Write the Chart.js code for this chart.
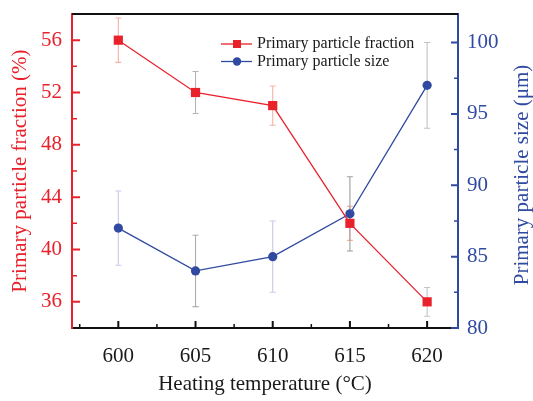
<!DOCTYPE html>
<html>
<head>
<meta charset="utf-8">
<script src="https://cdn.jsdelivr.net/npm/chart.js@4.4.0/dist/chart.umd.min.js"></script>
<style>
  html, body { margin: 0; padding: 0; background: #fff; }
  #wrap { width: 533px; height: 401px; }
</style>
</head>
<body>
<div id="wrap"><canvas id="chart" width="533" height="401"></canvas></div>
<script>
// values
const temperatures = [600, 605, 610, 615, 620];
const fraction = [56, 52, 51, 42, 36];
const fractionErr = [1.7, 1.6, 1.5, 1.3, 1.1];
const size = [87, 84, 85, 88, 97];
const sizeErr = [2.6, 2.5, 2.5, 2.6, 3.0];

const xTicks = [600, 605, 610, 615, 620];
const fractionTicks = [36, 40, 44, 48, 52, 56];
const sizeTicks = [80, 85, 90, 95, 100];

const RED = "#e8212b";
const BLUE = "#2f4aa0";
const INK = "#1a1a1a";
const FONT = "'Liberation Serif', 'Times New Roman', serif";
const fractionErrColors = ["#f4b3a4", "#b4b4b4", "#f4b3a4", "#f4b3a4", "#c4c4c4"];
const sizeErrColors = ["#c8cbea", "#adadad", "#c8cbea", "#9e9e9e", "#c2c2c2"];

const errorBars = {
  id: "errorBars",
  beforeDatasetsDraw(chart) {
    const ctx = chart.ctx;
    const x = chart.scales.x;
    const sets = [
      [fraction, fractionErr, fractionErrColors, chart.scales.yL],
      [size, sizeErr, sizeErrColors, chart.scales.yR]
    ];
    ctx.save();
    ctx.lineWidth = 1.1;
    sets.forEach(([vals, errs, colors, y]) => {
      vals.forEach((v, i) => {
        const px = x.getPixelForValue(temperatures[i]);
        const top = y.getPixelForValue(v + errs[i]);
        const bot = y.getPixelForValue(v - errs[i]);
        ctx.strokeStyle = colors[i];
        ctx.beginPath();
        ctx.moveTo(px, top); ctx.lineTo(px, bot);
        ctx.moveTo(px - 3, top); ctx.lineTo(px + 3, top);
        ctx.moveTo(px - 3, bot); ctx.lineTo(px + 3, bot);
        ctx.stroke();
      });
    });
    ctx.restore();
  }
};

function minorOf(ticks, half, min, max) {
  const out = ticks.map(v => v - half);
  out.push(ticks[ticks.length - 1] + half);
  return out.filter(v => v > min && v < max);
}

const frame = {
  id: "frame",
  afterDraw(chart) {
    const { ctx, chartArea: a, scales } = chart;
    ctx.save();
    // top border
    ctx.strokeStyle = "#111";
    ctx.lineWidth = 2;
    ctx.beginPath();
    ctx.moveTo(a.left, a.top); ctx.lineTo(a.right, a.top);
    ctx.stroke();

    function marks(scale, values, len, width, color, dir) {
      ctx.strokeStyle = color;
      ctx.lineWidth = width;
      ctx.beginPath();
      values.forEach(v => {
        const p = scale.getPixelForValue(v);
        if (dir === "up") { ctx.moveTo(p, a.bottom); ctx.lineTo(p, a.bottom - len); }
        if (dir === "right") { ctx.moveTo(a.left, p); ctx.lineTo(a.left + len, p); }
        if (dir === "left") { ctx.moveTo(a.right, p); ctx.lineTo(a.right - len, p); }
      });
      ctx.stroke();
    }
    const x = scales.x, yL = scales.yL, yR = scales.yR;
    marks(x, xTicks, 7, 2, "#111", "up");
    marks(x, minorOf(xTicks, 2.5, x.min, x.max), 4, 1.5, "#111", "up");
    marks(yL, fractionTicks, 8, 2, RED, "right");
    marks(yL, minorOf(fractionTicks, 2, yL.min, yL.max), 5, 1.5, RED, "right");
    marks(yR, sizeTicks, 7, 2, BLUE, "left");
    marks(yR, minorOf(sizeTicks, 2.5, yR.min, yR.max), 4, 1.5, BLUE, "left");

    // right axis title, reading upward
    ctx.fillStyle = BLUE;
    ctx.font = "21px " + FONT;
    ctx.textAlign = "center";
    ctx.textBaseline = "middle";
    ctx.translate(522, 175);
    ctx.rotate(-Math.PI / 2);
    ctx.fillText("Primary particle size (μm)", 0, 0);
    ctx.restore();

    // legend
    ctx.save();
    const lx = a.left + 149, ly = a.top + 30;
    chart.data.datasets.forEach((ds, i) => {
      const y = ly + i * 17.5;
      ctx.strokeStyle = ds.borderColor;
      ctx.lineWidth = 1.3;
      ctx.beginPath();
      ctx.moveTo(lx, y); ctx.lineTo(lx + 31, y);
      ctx.stroke();
      ctx.fillStyle = ds.backgroundColor;
      ctx.beginPath();
      if (ds.pointStyle === "rect") ctx.rect(lx + 12, y - 4, 8, 8);
      else ctx.arc(lx + 16, y, 4.2, 0, Math.PI * 2);
      ctx.fill();
      ctx.fillStyle = INK;
      ctx.font = "16px " + FONT;
      ctx.textAlign = "left";
      ctx.textBaseline = "middle";
      ctx.fillText(ds.label, lx + 36, y);
    });
    ctx.restore();
  }
};

new Chart(document.getElementById("chart"), {
  type: "line",
  data: {
    datasets: [
      {
        label: "Primary particle fraction",
        data: temperatures.map((t, i) => ({ x: t, y: fraction[i] })),
        yAxisID: "yL",
        borderColor: RED,
        backgroundColor: RED,
        borderWidth: 1.3,
        pointStyle: "rect",
        pointRadius: 6.5,
        pointBorderWidth: 0,
        tension: 0
      },
      {
        label: "Primary particle size",
        data: temperatures.map((t, i) => ({ x: t, y: size[i] })),
        yAxisID: "yR",
        borderColor: BLUE,
        backgroundColor: BLUE,
        borderWidth: 1.3,
        pointStyle: "circle",
        pointRadius: 4.6,
        pointBorderWidth: 0,
        tension: 0
      }
    ]
  },
  options: {
    responsive: false,
    animation: false,
    devicePixelRatio: 1,
    layout: { padding: { top: 14, right: 0, left: 0, bottom: 0 } },
    plugins: { legend: { display: false }, tooltip: { enabled: false } },
    scales: {
      x: {
        type: "linear",
        position: "bottom",
        min: 597,
        max: 622,
        afterBuildTicks: s => { s.ticks = xTicks.map(v => ({ value: v })); },
        afterFit: s => { s.height = 73; s.paddingLeft = 0; s.paddingRight = 0; },
        grid: { display: false, drawTicks: false },
        border: { display: true, color: "#111", width: 2 },
        ticks: { color: INK, font: { family: FONT, size: 21 }, padding: 16, maxRotation: 0 },
        title: {
          display: true, text: "Heating temperature (°C)", color: INK,
          font: { family: FONT, size: 21 }, padding: { top: 0, bottom: 4 }
        }
      },
      yL: {
        type: "linear",
        position: "left",
        min: 34,
        max: 58,
        afterBuildTicks: s => { s.ticks = fractionTicks.map(v => ({ value: v })); },
        afterFit: s => { s.width = 72; s.paddingTop = 0; s.paddingBottom = 0; },
        grid: { display: false, drawTicks: false },
        border: { display: true, color: RED, width: 2 },
        ticks: { color: RED, font: { family: FONT, size: 21 }, padding: 10 },
        title: {
          display: true, text: "Primary particle fraction (%)", color: RED,
          font: { family: FONT, size: 21 }, padding: { top: 8, bottom: 0 }
        }
      },
      yR: {
        type: "linear",
        position: "right",
        min: 80,
        max: 102,
        afterBuildTicks: s => { s.ticks = sizeTicks.map(v => ({ value: v })); },
        afterFit: s => { s.width = 75; s.paddingTop = 0; s.paddingBottom = 0; },
        grid: { display: false, drawTicks: false },
        border: { display: true, color: BLUE, width: 2 },
        ticks: { color: BLUE, font: { family: FONT, size: 21 }, padding: 9 }
      }
    }
  },
  plugins: [errorBars, frame]
});
</script>
</body>
</html>
